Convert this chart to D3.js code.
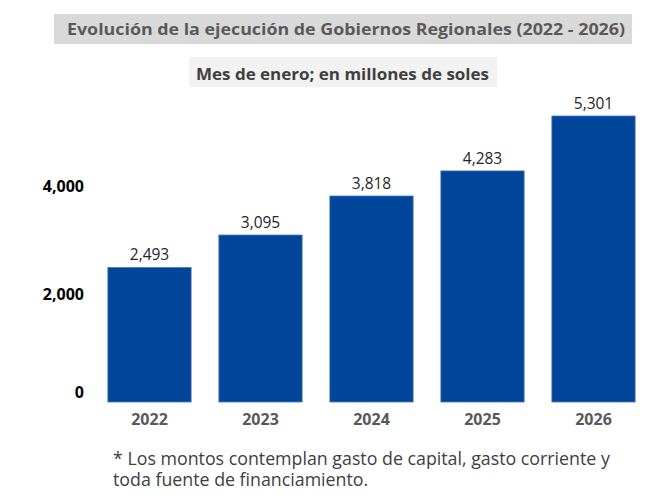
<!DOCTYPE html>
<html>
<head>
<meta charset="utf-8">
<script src="https://cdn.jsdelivr.net/npm/d3@7"></script>
<style>
  body { margin: 0; background: #fff; }
  text { font-family: "Open Sans", sans-serif; }
</style>
</head>
<body>
<div id="chart"></div>
<script>
// data
const years = ["2022", "2023", "2024", "2025", "2026"];
const values = [2493, 3095, 3818, 4283, 5301];
const yTicks = [0, 2000, 4000];

const width = 663, height = 504;
const svg = d3.select("#chart").append("svg")
    .attr("width", width)
    .attr("height", height);

let x = d3.scaleBand()
    .domain(years)
    .range([94, 649])
    .paddingInner(0.25)
    .paddingOuter(0.125);

let y = d3.scaleLinear()
    .domain([0, 5301])
    .range([402, 116]);

// title boxes
svg.append("rect")
    .attr("x", 54).attr("y", 14)
    .attr("width", 578).attr("height", 30)
    .attr("fill", "#d9d9d9");
svg.append("text")
    .attr("x", 346).attr("y", 35)
    .attr("text-anchor", "middle")
    .attr("font-size", 15.5)
    .attr("font-weight", "bold")
    .attr("fill", "#595959")
    .attr("textLength", 558)
    .attr("lengthAdjust", "spacingAndGlyphs")
    .text("Evolución de la ejecución de Gobiernos Regionales (2022 - 2026)");

svg.append("rect")
    .attr("x", 189).attr("y", 57)
    .attr("width", 308).attr("height", 30)
    .attr("fill", "#f2f2f2");
svg.append("text")
    .attr("x", 342.5).attr("y", 80)
    .attr("text-anchor", "middle")
    .attr("font-size", 15.5)
    .attr("font-weight", "bold")
    .attr("fill", "#404040")
    .attr("textLength", 293)
    .attr("lengthAdjust", "spacingAndGlyphs")
    .text("Mes de enero; en millones de soles");

// bars
svg.append("g")
    .selectAll("rect")
    .data(values)
    .join("rect")
    .attr("x", (d, i) => x(years[i]))
    .attr("y", d => y(d))
    .attr("width", x.bandwidth())
    .attr("height", d => y(0) - y(d))
    .attr("fill", "#00459a")
    .attr("stroke", "#4a78b8")
    .attr("stroke-width", 0.8);

// value labels
svg.append("g")
    .selectAll("text")
    .data(values)
    .join("text")
    .attr("x", (d, i) => x(years[i]) + x.bandwidth() / 2)
    .attr("y", d => y(d) - 7)
    .attr("text-anchor", "middle")
    .attr("font-size", 15.5)
    .attr("fill", "#262626")
    .text(d => d3.format(",")(d));

// y axis (labels only)
let yAxis = svg.append("g")
    .attr("transform", "translate(84,0)")
    .call(d3.axisLeft(y).tickValues(yTicks).tickSize(0).tickPadding(0).tickFormat(d3.format(",")));
yAxis.select(".domain").remove();
yAxis.selectAll("text")
    .attr("font-size", 16)
    .attr("font-weight", "bold")
    .attr("fill", "#000")
    .attr("font-family", "'Open Sans', sans-serif");
// the zero label sits a bit above the baseline
yAxis.selectAll(".tick").filter(d => d === 0).select("text").attr("dy", "-0.3em");

// x axis
let xAxis = svg.append("g")
    .attr("transform", `translate(0,${y(0)})`)
    .call(d3.axisBottom(x).tickSize(0).tickPadding(12));
xAxis.select(".domain").remove();
xAxis.selectAll("text")
    .attr("font-size", 16)
    .attr("font-weight", "bold")
    .attr("fill", "#595959")
    .attr("font-family", "'Open Sans', sans-serif");

// footnote
const note = svg.append("text")
    .attr("x", 113)
    .attr("font-size", 17.8)
    .attr("fill", "#404040");
note.append("tspan").attr("x", 113).attr("y", 465)
    .text("* Los montos contemplan gasto de capital, gasto corriente y");
note.append("tspan").attr("x", 113).attr("y", 486)
    .text("toda fuente de financiamiento.");
</script>
</body>
</html>
